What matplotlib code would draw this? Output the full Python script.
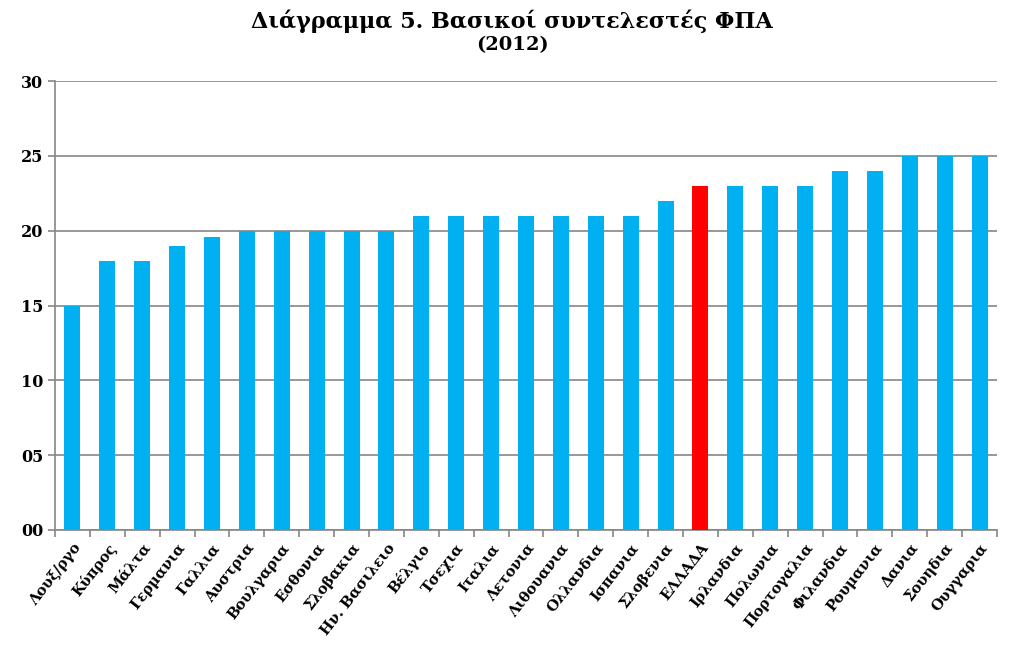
import matplotlib
matplotlib.use('Agg')
import matplotlib.pyplot as plt
from matplotlib.ticker import FuncFormatter

# data
countries = ['Λουξ/ργο', 'Κύπρος', 'Μάλτα', 'Γερμανια', 'Γαλλια', 'Αυστρια',
             'Βουλγαρια', 'Εσθονια', 'Σλοβακια', 'Ην. Βασιλειο', 'Βέλγιο',
             'Τσεχια', 'Ιταλια', 'Λετονια', 'Λιθουανια', 'Ολλανδια', 'Ισπανια',
             'Σλοβενια', 'ΕΛΛΑΔΑ', 'Ιρλανδια', 'Πολωνια', 'Πορτογαλια',
             'Φιλανδια', 'Ρουμανια', 'Δανια', 'Σουηδια', 'Ουγγαρια']
vat_rates = [15, 18, 18, 19, 19.6, 20, 20, 20, 20, 20, 21, 21, 21, 21, 21, 21, 21,
             22, 23, 23, 23, 23, 24, 24, 25, 25, 25]
highlight = 'ΕΛΛΑΔΑ'
yticks = [0, 5, 10, 15, 20, 25, 30]

plt.rcParams['font.family'] = ['DejaVu Serif']
plt.rcParams['font.weight'] = 'bold'

fig = plt.figure(figsize=(10.24, 6.48), dpi=100)
ax = fig.add_axes([55 / 1024, 1 - 530 / 648, 942 / 1024, 449 / 648])

colors = ['#ff0000' if c == highlight else '#00b0f0' for c in countries]
x = list(range(len(countries)))
ax.bar(x, vat_rates, width=0.46, color=colors, zorder=3)

ax.set_xlim(-0.5, len(countries) - 0.5)
ax.set_ylim(0, 30)
ax.set_yticks(yticks)
ax.yaxis.set_major_formatter(FuncFormatter(lambda v, p: '%02d' % v))
ax.grid(axis='y', color='#868686', linewidth=1.2, zorder=0)

# category boundaries get the tick marks, labels sit at the bar centres
ax.set_xticks([i - 0.5 for i in range(len(countries) + 1)])
ax.set_xticklabels([])
ax.set_xticks(x, minor=True)
ax.set_xticklabels(countries, minor=True, rotation=52, ha='right',
                   rotation_mode='anchor', fontsize=10.5, fontweight='bold')
ax.tick_params(axis='x', which='minor', length=0, pad=8)
ax.tick_params(axis='x', which='major', length=5, color='#868686', width=1.2)
ax.tick_params(axis='y', length=5, color='#868686', width=1.2, labelsize=11.5)
for lbl in ax.get_yticklabels():
    lbl.set_fontweight('bold')

for side in ['top', 'right']:
    ax.spines[side].set_visible(False)
for side in ['left', 'bottom']:
    ax.spines[side].set_color('#868686')
    ax.spines[side].set_linewidth(1.2)

fig.text(0.5, 1 - 21 / 648, 'Διάγραμμα 5. Βασικοί συντελεστές ΦΠΑ', ha='center',
         va='center', fontsize=16, fontweight='bold')
fig.text(0.5, 1 - 45 / 648, '(2012)', ha='center', va='center',
         fontsize=14, fontweight='bold')

fig.savefig('out.png', dpi=100)
